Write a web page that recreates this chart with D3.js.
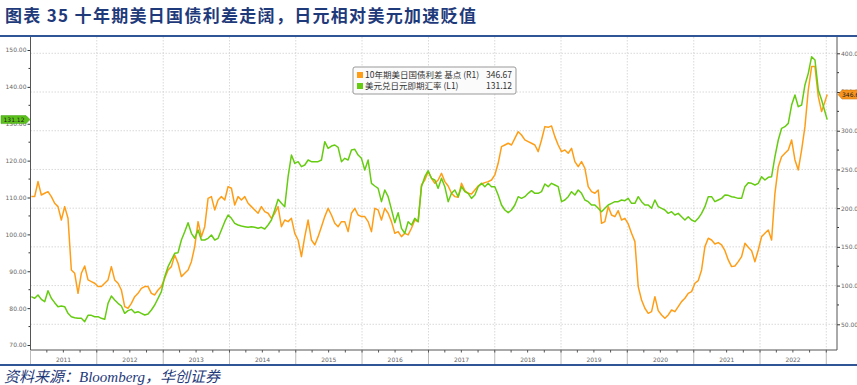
<!DOCTYPE html>
<html>
<head>
<meta charset="utf-8">
<script src="https://cdn.jsdelivr.net/npm/d3@7"></script>
<style>
  body { margin: 0; background: #fff; }
  svg { display: block; font-family: "Noto Sans CJK SC", "DejaVu Sans", sans-serif; }
</style>
</head>
<body>
<div id="chart"></div>
<script>
// readings about every 2.5 weeks, early Jan 2011 .. early Jan 2023
const usdjpy = [
  83.11, 82.66, 83.56, 82.38, 81.75, 84.73, 82.66, 81.48, 80.39, 80.57,
  80.39, 78.59, 77.68, 77.41, 77.23, 77.23, 76.33, 78.04, 78.04, 77.68,
  77.68, 77.23, 76.96, 81.30, 83.29, 82.20, 81.30, 80.57, 78.59, 79.31,
  79.67, 78.77, 79.04, 78.59, 78.13, 78.41, 79.49, 80.85, 82.66, 84.46,
  88.53, 91.24, 93.05, 94.86, 95.04, 98.47, 100.73, 103.17, 100.28, 98.93,
  101.18, 98.47, 98.47, 98.93, 99.83, 98.47, 98.93, 101.18, 103.44, 105.25,
  104.35, 102.99, 102.54, 102.27, 102.09, 101.91, 102.09, 101.91, 101.64, 101.91,
  101.46, 102.54, 103.90, 106.61, 109.50, 108.42, 107.51, 115.65, 121.52, 119.26,
  119.71, 118.36, 118.81, 120.17, 119.71, 119.71, 119.71, 120.17, 125.14, 123.33,
  123.96, 124.24, 123.60, 119.71, 120.62, 120.17, 122.88, 123.06, 121.52, 120.62,
  117.46, 120.17, 113.84, 113.12, 112.48, 108.87, 112.03, 110.22, 106.79, 103.17,
  105.88, 101.64, 100.28, 103.44, 102.54, 104.35, 103.44, 112.94, 115.65, 117.27,
  115.20, 114.74, 112.48, 115.20, 112.94, 108.87, 111.13, 112.03, 110.22, 112.94,
  111.58, 111.13, 109.77, 110.68, 112.94, 113.84, 112.94, 113.84, 112.94, 112.94,
  110.68, 107.96, 106.61, 105.88, 106.61, 107.96, 110.22, 109.77, 110.22, 111.13,
  111.85, 111.13, 111.13, 111.58, 113.66, 112.94, 113.84, 113.39, 112.94, 108.87,
  109.32, 110.22, 111.58, 110.68, 112.03, 111.13, 109.32, 108.87, 107.96, 107.96,
  107.06, 106.16, 107.06, 107.96, 108.42, 108.87, 108.87, 109.32, 109.14, 109.77,
  108.42, 108.42, 110.22, 108.87, 107.96, 107.96, 107.06, 109.32, 107.51, 107.06,
  106.61, 105.70, 106.16, 105.25, 105.70, 104.80, 103.90, 104.80, 103.90, 103.44,
  104.35, 105.70, 107.51, 110.22, 110.22, 108.87, 109.32, 109.77, 110.68, 110.59,
  110.22, 110.04, 109.77, 109.77, 112.94, 114.02, 113.84, 113.39, 113.84, 115.65,
  114.74, 115.47, 115.65, 121.07, 125.59, 128.76, 129.21, 130.11, 135.08, 137.79,
  134.63, 135.08, 140.51, 143.67, 148.19, 147.29, 139.15, 136.44, 133.27, 131.12
];
const spread = [
  214.9, 214.9, 234.3, 217.0, 219.2, 221.3, 214.9, 206.3, 202.0, 184.7,
  202.0, 186.9, 120.2, 115.9, 90.0, 115.9, 125.3, 107.3, 105.1, 103.0,
  98.7, 98.7, 103.0, 107.3, 124.5, 107.3, 103.0, 94.3, 72.8, 70.7,
  77.1, 85.7, 90.0, 96.5, 98.7, 98.7, 90.0, 87.9, 94.3, 98.7,
  109.4, 120.2, 124.5, 139.6, 128.8, 111.6, 115.9, 120.2, 130.9, 150.3,
  182.6, 163.2, 176.1, 212.7, 214.9, 197.7, 210.6, 214.9, 210.6, 227.8,
  225.7, 204.1, 214.9, 210.6, 214.9, 206.3, 202.0, 197.7, 193.4, 202.0,
  195.5, 193.4, 186.9, 193.4, 202.0, 176.1, 184.7, 182.6, 186.9, 167.5,
  158.9, 137.4, 163.2, 184.7, 158.9, 152.5, 163.2, 176.1, 189.1, 199.8,
  191.2, 180.4, 176.1, 182.6, 182.6, 169.7, 193.4, 199.8, 191.2, 189.1,
  189.1, 182.6, 169.7, 199.8, 197.7, 184.7, 199.8, 193.4, 182.6, 167.5,
  169.7, 163.2, 167.5, 165.4, 174.0, 184.7, 182.6, 230.0, 236.4, 247.2,
  238.6, 232.1, 236.4, 245.0, 234.3, 228.7, 219.2, 214.9, 214.0, 232.1,
  222.6, 219.2, 218.3, 223.5, 228.7, 231.2, 233.0, 234.3, 236.4, 242.9,
  257.9, 279.5, 281.6, 283.8, 281.6, 290.2, 298.8, 294.5, 288.1, 285.9,
  283.8, 281.6, 273.0, 288.1, 305.3, 304.4, 306.2, 292.4, 281.6, 273.0,
  275.2, 270.9, 277.3, 260.1, 253.6, 260.1, 251.5, 227.8, 221.3, 219.2,
  223.5, 180.4, 182.6, 202.0, 191.2, 189.1, 196.8, 184.7, 186.9, 179.6,
  167.5, 156.8, 98.7, 81.4, 70.7, 64.2, 66.4, 85.7, 67.7, 62.1,
  57.8, 62.1, 68.5, 66.4, 72.8, 79.3, 83.6, 90.0, 92.2, 103.0,
  106.4, 120.2, 150.3, 161.1, 158.9, 153.8, 155.5, 152.5, 145.1, 133.1,
  124.5, 125.3, 130.9, 137.4, 154.6, 149.4, 145.1, 130.9, 146.0, 163.2,
  167.5, 171.8, 158.9, 219.2, 253.6, 266.5, 270.9, 275.2, 288.1, 262.2,
  249.3, 275.2, 305.3, 352.6, 382.8, 382.8, 344.0, 324.7, 337.6, 346.67
];
const years = ['2011', '2012', '2013', '2014', '2015', '2016', '2017', '2018', '2019', '2020', '2021', '2022'];
const leftTicks = [70, 80, 90, 100, 110, 120, 130, 140, 150];
const rightTicks = [50, 100, 150, 200, 250, 300, 350, 400];
const seriesNames = ['10年期美日国债利差 基点 (R1)', '美元兑日元即期汇率 (L1)'];

const w = 857;
const h = 385;
const orange = '#FF9E16';
const green = '#66CC11';
const navy = '#1F3A7A';

// sample dates: every ~18.4 days from 5 Jan 2011, last reading 6 Jan 2023
const dates = usdjpy.map((d, i) => i < usdjpy.length - 1
  ? d3.timeHour.offset(new Date(2011, 0, 1), Math.round((4.6 + i * 18.366) * 24))
  : new Date(2023, 0, 6));

const svg = d3.select('#chart')
              .append('svg')
              .attr('width', w)
              .attr('height', h);

const xScale = d3.scaleTime()
                 .domain([new Date(2011, 0, 1), new Date(2023, 2, 1)])
                 .range([30.5, 837]);
const yLeft = d3.scaleLinear().domain([70, 150]).range([345, 50]);
const yRight = d3.scaleLinear().domain([50, 400]).range([324.3, 53.3]);

const plotTop = 37, plotBottom = 350, plotLeft = 30.5, plotRight = 837;

// title
svg.append('text')
   .text('图表 35  十年期美日国债利差走阔，日元相对美元加速贬值')
   .attr('x', 5)
   .attr('y', 22)
   .attr('font-size', 17)
   .attr('letter-spacing', 1.3)
   .attr('font-weight', 'bold')
   .attr('fill', navy);
svg.append('line')
   .attr('x1', 0).attr('x2', w).attr('y1', 36).attr('y2', 36)
   .attr('stroke', '#2F5597').attr('stroke-width', 2);

// grid
svg.append('g')
   .selectAll('line')
   .data(rightTicks)
   .enter()
   .append('line')
   .attr('x1', plotLeft).attr('x2', plotRight)
   .attr('y1', d => yRight(d)).attr('y2', d => yRight(d))
   .attr('stroke', '#cfcfcf').attr('stroke-width', 0.8).attr('stroke-dasharray', '1.5,1.5');

const yearStarts = years.map(y => new Date(+y, 0, 1)).concat([new Date(2023, 0, 1)]);
svg.append('g')
   .selectAll('line')
   .data(yearStarts.slice(1))
   .enter()
   .append('line')
   .attr('x1', d => xScale(d)).attr('x2', d => xScale(d))
   .attr('y1', plotTop).attr('y2', plotBottom)
   .attr('stroke', '#cfcfcf').attr('stroke-width', 0.8).attr('stroke-dasharray', '1.5,1.5');

// lines
const lineL = d3.line().x((d, i) => xScale(dates[i])).y(d => yLeft(d));
const lineR = d3.line().x((d, i) => xScale(dates[i])).y(d => yRight(d));

svg.append('path')
   .datum(spread)
   .attr('d', lineR)
   .attr('fill', 'none')
   .attr('stroke', orange)
   .attr('stroke-width', 1.5)
   .attr('stroke-linejoin', 'round');
svg.append('path')
   .datum(usdjpy)
   .attr('d', lineL)
   .attr('fill', 'none')
   .attr('stroke', green)
   .attr('stroke-width', 1.5)
   .attr('stroke-linejoin', 'round');

// left axis
const leftAxis = d3.axisLeft(yLeft)
                   .tickValues(leftTicks)
                   .tickFormat(d3.format('.2f'))
                   .tickSize(3)
                   .tickPadding(1);
const gL = svg.append('g')
              .attr('transform', 'translate(' + plotLeft + ',0)')
              .call(leftAxis);
gL.select('.domain').remove();
gL.selectAll('.tick line').attr('stroke', '#333');
gL.selectAll('.tick text').attr('font-size', 6).attr('fill', '#666').attr('font-family', 'DejaVu Sans');
gL.selectAll('.minor')
  .data(d3.range(75, 150, 10))
  .enter()
  .append('line')
  .attr('x1', -2).attr('x2', 0)
  .attr('y1', d => yLeft(d)).attr('y2', d => yLeft(d))
  .attr('stroke', '#333');
gL.append('line')
  .attr('y1', plotTop).attr('y2', plotBottom)
  .attr('stroke', '#555').attr('stroke-width', 1);

// right axis
const rightAxis = d3.axisRight(yRight)
                    .tickValues(rightTicks)
                    .tickFormat(d3.format('.2f'))
                    .tickSize(3)
                    .tickPadding(1);
const gR = svg.append('g')
              .attr('transform', 'translate(' + plotRight + ',0)')
              .call(rightAxis);
gR.select('.domain').remove();
gR.selectAll('.tick line').attr('stroke', '#333');
gR.selectAll('.tick text').attr('font-size', 6).attr('fill', '#666').attr('font-family', 'DejaVu Sans');
gR.selectAll('.minor')
  .data(d3.range(75, 400, 50))
  .enter()
  .append('line')
  .attr('x1', 0).attr('x2', 2)
  .attr('y1', d => yRight(d)).attr('y2', d => yRight(d))
  .attr('stroke', '#333');
gR.append('line')
  .attr('y1', plotTop).attr('y2', plotBottom)
  .attr('stroke', '#555').attr('stroke-width', 1);

// x axis
const gX = svg.append('g');
gX.append('line')
  .attr('x1', plotLeft).attr('x2', plotRight)
  .attr('y1', plotBottom).attr('y2', plotBottom)
  .attr('stroke', '#555');
gX.selectAll('.sep')
  .data(yearStarts)
  .enter()
  .append('line')
  .attr('x1', d => xScale(d)).attr('x2', d => xScale(d))
  .attr('y1', plotBottom).attr('y2', 364)
  .attr('stroke', '#bbb');
gX.selectAll('.qt')
  .data(d3.timeMonth.every(3).range(new Date(2011, 3, 1), new Date(2023, 0, 2)))
  .enter()
  .append('line')
  .attr('x1', d => xScale(d)).attr('x2', d => xScale(d))
  .attr('y1', plotBottom).attr('y2', plotBottom + 2.5)
  .attr('stroke', '#555');
gX.selectAll('.yr')
  .data(years)
  .enter()
  .append('text')
  .text(d => d)
  .attr('x', d => xScale(new Date(+d, 6, 2)))
  .attr('y', 362)
  .attr('text-anchor', 'middle')
  .attr('font-size', 6)
  .attr('font-family', 'DejaVu Sans')
  .attr('fill', '#666');

// bottom rule and source
svg.append('line')
   .attr('x1', 0).attr('x2', w).attr('y1', 365).attr('y2', 365)
   .attr('stroke', '#2F5597').attr('stroke-width', 2);
svg.append('text')
   .text('资料来源：Bloomberg，华创证券')
   .attr('x', 4)
   .attr('y', 382)
   .attr('font-size', 15)
   .attr('font-style', 'italic')
   .attr('font-family', '"Liberation Serif", "Noto Sans CJK SC", serif')
   .attr('fill', navy);

// legend
const lastSpread = spread[spread.length - 1];
const lastJpy = usdjpy[usdjpy.length - 1];
const legend = svg.append('g').attr('transform', 'translate(353,67)');
legend.append('rect')
      .attr('width', 163).attr('height', 27).attr('rx', 2)
      .attr('fill', '#fbfbfb').attr('stroke', '#999');
[[seriesNames[0], lastSpread, orange], [seriesNames[1], lastJpy, green]].forEach((row, i) => {
  legend.append('rect')
        .attr('x', 4).attr('y', 5 + i * 11)
        .attr('width', 6).attr('height', 6)
        .attr('fill', row[2]);
  legend.append('text')
        .text(row[0])
        .attr('x', 12).attr('y', 11 + i * 11)
        .attr('font-size', 8.5).attr('fill', '#333');
  legend.append('text')
        .text(d3.format('.2f')(row[1]))
        .attr('x', 159).attr('y', 11 + i * 11)
        .attr('text-anchor', 'end')
        .attr('font-size', 8.5).attr('fill', '#333');
});

// last value tags
const ly = yLeft(lastJpy);
svg.append('path')
   .attr('d', 'M1,' + (ly - 4) + 'H26L30,' + ly + 'L26,' + (ly + 4) + 'H1Z')
   .attr('fill', '#5CC21B').attr('stroke', '#3E9A0E').attr('stroke-width', 0.5);
svg.append('text')
   .text(d3.format('.2f')(lastJpy))
   .attr('x', 14).attr('y', ly + 2.2)
   .attr('text-anchor', 'middle')
   .attr('font-size', 6).attr('font-family', 'DejaVu Sans').attr('fill', '#222');
const ry = yRight(lastSpread);
svg.append('path')
   .attr('d', 'M838,' + ry + 'L842,' + (ry - 4.5) + 'H858V' + (ry + 4.5) + 'H842Z')
   .attr('fill', '#F7941D').attr('stroke', '#C86E00').attr('stroke-width', 0.5);
svg.append('text')
   .text(d3.format('.2f')(lastSpread))
   .attr('x', 842).attr('y', ry + 2.2)
   .attr('font-size', 6).attr('font-family', 'DejaVu Sans').attr('fill', '#222');
</script>
</body>
</html>
